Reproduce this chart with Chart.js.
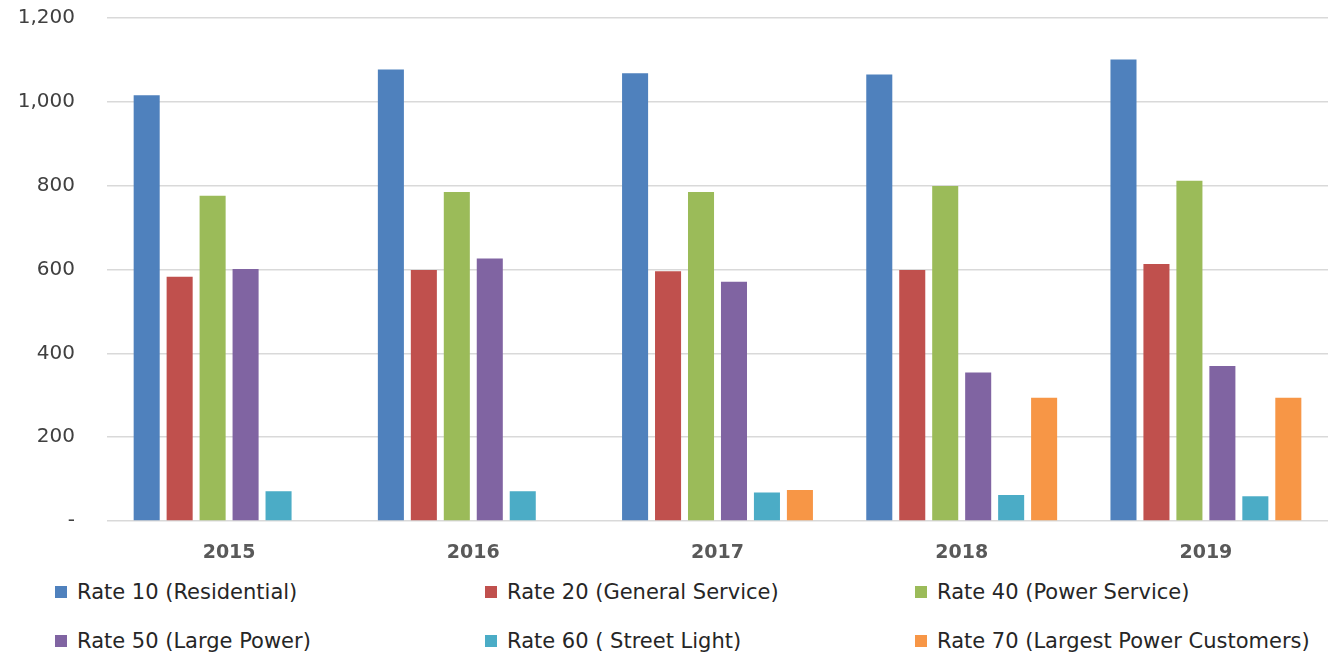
<!DOCTYPE html>
<html>
<head>
<meta charset="utf-8">
<script src="https://cdn.jsdelivr.net/npm/chart.js@4/dist/chart.umd.min.js"></script>
<style>
  body { margin: 0; background: #fff; overflow: hidden; }
  #wrap { position: relative; width: 1328px; height: 657px; overflow: hidden; }
  #rate-chart { position: absolute; left: 0; top: -26px; }
  .legend-item {
    position: absolute;
    font-family: "DejaVu Sans", sans-serif;
    font-size: 21px;
    color: #262626;
    white-space: nowrap;
    line-height: 24px;
  }
  .legend-item span.box {
    display: inline-block;
    width: 12px;
    height: 12px;
    margin-right: 10px;
    vertical-align: 1px;
  }
</style>
</head>
<body>
<div id="wrap">
  <canvas id="rate-chart" width="1328" height="601"></canvas>
  <div id="legend"></div>
</div>
<script>
// categories
let years = ["2015", "2016", "2017", "2018", "2019"];

// series
let seriesNames = [
  "Rate 10 (Residential)",
  "Rate 20 (General Service)",
  "Rate 40 (Power Service)",
  "Rate 50 (Large Power)",
  "Rate 60 ( Street Light)",
  "Rate 70 (Largest Power Customers)",
];
let rate10 = [1016, 1077, 1068, 1065, 1101];
let rate20 = [583, 599, 596, 599, 613];
let rate40 = [776, 785, 785, 799, 812];
let rate50 = [601, 626, 571, 354, 370];
let rate60 = [71, 71, 68, 62, 59];
let rate70 = [null, null, 74, 294, 294];

// y axis ticks
let yTicks = [0, 200, 400, 600, 800, 1000, 1200];

let colors = ["#4F81BD", "#C0504D", "#9BBB59", "#8064A2", "#4BACC6", "#F79646"];
let allSeries = [rate10, rate20, rate40, rate50, rate60, rate70];

let datasets = allSeries.map(function (vals, i) {
  return {
    label: seriesNames[i],
    data: vals,
    backgroundColor: colors[i],
    borderWidth: 0,
    categoryPercentage: 0.81,
    barPercentage: 0.79,
  };
});

let ctx = document.getElementById("rate-chart").getContext("2d");
let chart = new Chart(ctx, {
  type: "bar",
  data: { labels: years, datasets: datasets },
  options: {
    responsive: false,
    animation: false,
    devicePixelRatio: 1,
    layout: { padding: { top: 17, left: 0, right: 0, bottom: 0 } },
    plugins: { legend: { display: false }, tooltip: { enabled: false } },
    scales: {
      x: {
        grid: { display: false },
        border: { display: false },
        ticks: {
          color: "#595959",
          padding: 13,
          font: { family: "DejaVu Sans", size: 19, weight: "bold" },
        },
        afterFit: function (s) { s.height = 54; },
      },
      y: {
        min: 0,
        max: 1200,
        afterBuildTicks: function (s) {
          s.ticks = yTicks.map(function (v) { return { value: v }; });
        },
        grid: { color: "#d9d9d9", lineWidth: 1.5, drawTicks: false },
        border: { display: false },
        ticks: {
          color: "#404040",
          padding: 32,
          font: { family: "DejaVu Sans", size: 20 },
          callback: function (v) {
            return v === 0 ? "-" : v.toLocaleString("en-US");
          },
        },
        afterFit: function (s) { s.width = 107; },
      },
    },
  },
});

// legend in a 3 x 2 grid like the original
let legendPos = [
  [55, 580], [485, 580], [915, 580],
  [55, 629], [485, 629], [915, 629],
];
let legend = document.getElementById("legend");
seriesNames.forEach(function (name, i) {
  let item = document.createElement("div");
  item.className = "legend-item";
  item.style.left = legendPos[i][0] + "px";
  item.style.top = legendPos[i][1] + "px";
  item.innerHTML = '<span class="box" style="background:' + colors[i] + '"></span>' + name;
  legend.appendChild(item);
});
</script>
</body>
</html>
